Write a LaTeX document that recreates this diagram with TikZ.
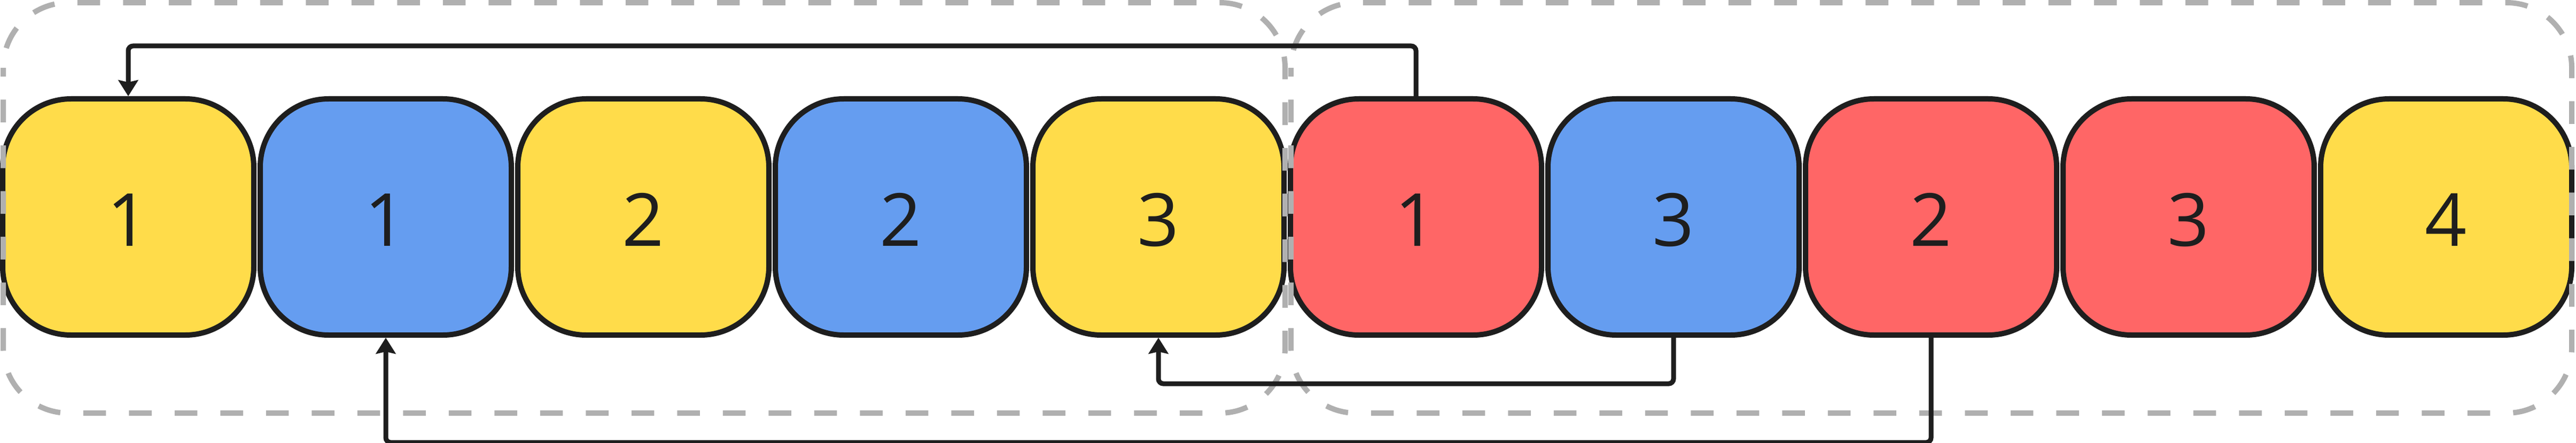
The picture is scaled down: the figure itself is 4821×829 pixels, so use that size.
\documentclass[tikz,border=0pt]{standalone}
\usepackage{fontspec}
\setmainfont{Open Sans}
\usetikzlibrary{arrows.meta}
\definecolor{byellow}{HTML}{FFDC4A}
\definecolor{bblue}{HTML}{659DF0}
\definecolor{bred}{HTML}{FF6666}
\definecolor{ink}{HTML}{1E1E1E}
\definecolor{grpgray}{HTML}{B0B0B0}
\begin{document}
\begin{tikzpicture}[x=1pt,y=-1pt,
  cell/.style={draw=ink, line width=10pt, rounded corners=128pt,
    minimum width=470pt, minimum height=442pt, inner sep=0pt,
    text=ink, font=\fontsize{137pt}{160pt}\selectfont,
    text height=108pt, text depth=0pt},
  ycell/.style={cell, fill=byellow},
  bcell/.style={cell, fill=bblue},
  rcell/.style={cell, fill=bred},
  grp/.style={draw=grpgray, line width=10pt, rounded corners=122pt,
    dash pattern=on 42.5pt off 43pt, dash phase=26pt},
  conn/.style={draw=ink, line width=9pt, rounded corners=9pt,
    -{Stealth[length=30pt,width=37pt,inset=4pt]}}]
\useasboundingbox (0,0) rectangle (4821,829);
\node[ycell] (b1)  at (240,406)  {1};
\node[bcell] (b2)  at (722,406)  {1};
\node[ycell] (b3)  at (1204,406) {2};
\node[bcell] (b4)  at (1686,406) {2};
\node[ycell] (b5)  at (2168,406) {3};
\node[rcell] (b6)  at (2650,406) {1};
\node[bcell] (b7)  at (3132,406) {3};
\node[rcell] (b8)  at (3614,406) {2};
\node[rcell] (b9)  at (4096,406) {3};
\node[ycell] (b10) at (4578,406) {4};
\draw[grp] (6,5) rectangle (2405,773);
\draw[grp] (2416,5) rectangle (4813,773);
\draw[conn] (b6.north) -- ++(0,-94) -| (b1.north);
\draw[conn] (b7.south) -- ++(0,86) -| (b5.south);
\draw[conn] (b8.south) -- ++(0,196) -| (b2.south);
\end{tikzpicture}
\end{document}
